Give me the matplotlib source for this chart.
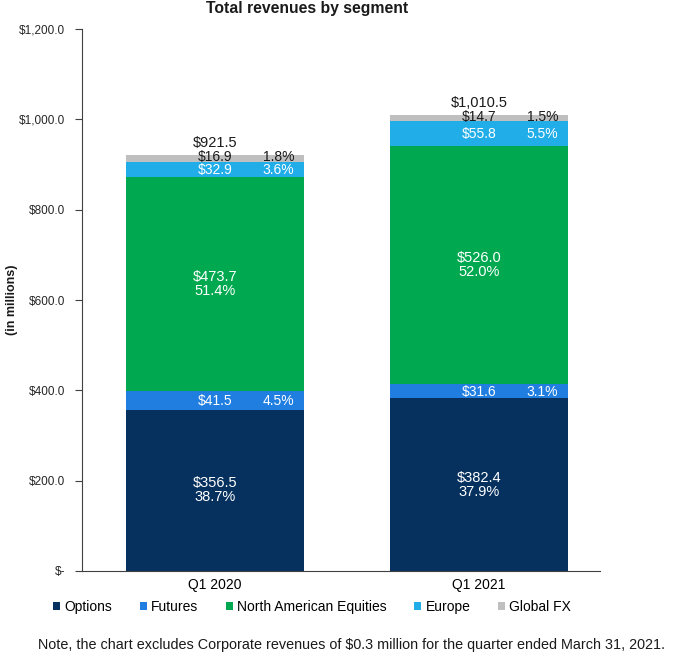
import matplotlib
matplotlib.use("Agg")
import matplotlib.pyplot as plt
import numpy as np

plt.rcParams['font.family'] = ['Liberation Sans', 'DejaVu Sans']

categories = ["Q1 2020", "Q1 2021"]
segments = ["Options", "Futures", "North American Equities", "Europe", "Global FX"]
options = [356.5, 382.4]
futures = [41.5, 31.6]
nae = [473.7, 526.0]
europe = [32.9, 55.8]
globalfx = [16.9, 14.7]
pct_options = ["38.7%", "37.9%"]
pct_futures = ["4.5%", "3.1%"]
pct_nae = ["51.4%", "52.0%"]
pct_europe = ["3.6%", "5.5%"]
pct_fx = ["1.8%", "1.5%"]
totals = ["$921.5", "$1,010.5"]
yticks = [0, 200, 400, 600, 800, 1000, 1200]
ytick_labels = ["$-", "$200.0", "$400.0", "$600.0", "$800.0", "$1,000.0", "$1,200.0"]

colors = ["#06315e", "#1f7ee0", "#00a94f", "#21aee8", "#bfbfbf"]
series = [options, futures, nae, europe, globalfx]
pcts = [pct_options, pct_futures, pct_nae, pct_europe, pct_fx]

fig = plt.figure(figsize=(6.75, 6.56), dpi=100)
ax = fig.add_axes([82/675, 1-571/656, (600-82)/675, (571-29)/656])

x = np.arange(len(categories))
width = 0.674
bottom = np.zeros(len(categories))
for i, (vals, col, name) in enumerate(zip(series, colors, segments)):
    vals = np.array(vals)
    ax.bar(x, vals, width, bottom=bottom, color=col, label=name, zorder=2)
    for j in range(len(categories)):
        mid = bottom[j] + vals[j] / 2
        tcol = "#1a1a1a" if i == 4 else "white"
        if i in (0, 2):
            ax.text(x[j], mid, f"${vals[j]:.1f}\n{pcts[i][j]}", ha="center", va="center",
                    color=tcol, fontsize=10.5, linespacing=1.0)
        else:
            yy = mid + (3 if i == 4 else -1)
            ax.text(x[j], yy, f"${vals[j]:.1f}", ha="center", va="center", color=tcol, fontsize=10)
            ax.text(x[j] + 0.24, yy, pcts[i][j], ha="center", va="center", color=tcol, fontsize=10)
    bottom += vals

for j in range(len(categories)):
    ax.text(x[j], bottom[j] + 10, totals[j], ha="center", va="bottom", color="#1a1a1a", fontsize=10.5)

ax.set_ylim(0, 1200)
ax.set_xlim(-0.504, 1.458)
ax.set_yticks(yticks)
ax.set_yticklabels(ytick_labels, fontsize=8.5, color="#262626")
ax.set_xticks(x)
ax.set_xticklabels(categories, fontsize=10)
ax.tick_params(axis="x", length=0, pad=5)
ax.tick_params(axis="y", length=5, direction="out", pad=7, color="#404040")
for s in ["top", "right"]:
    ax.spines[s].set_visible(False)
for s in ["left", "bottom"]:
    ax.spines[s].set_color("#404040")

fig.text(307/675, 1-9/656, "Total revenues by segment", ha="center", va="center",
         fontsize=11.3, fontweight="bold", color="#1a1a1a")
fig.text(12/675, 1-300/656, "(in millions)", rotation=90, ha="center", va="center",
         fontsize=9, fontweight="bold", color="#1a1a1a")

leg = fig.legend(loc="center", bbox_to_anchor=(312/675, 1-607/656), ncol=5, frameon=False,
                 fontsize=10, handlelength=0.5, handleheight=0.5, handletextpad=0.3,
                 columnspacing=2.0)

fig.text(352/675, 1-645/656,
         "Note, the chart excludes Corporate revenues of $0.3 million for the quarter ended March 31, 2021.",
         ha="center", va="center", fontsize=10.4, color="#1a1a1a")

fig.savefig("out.png", dpi=100)
